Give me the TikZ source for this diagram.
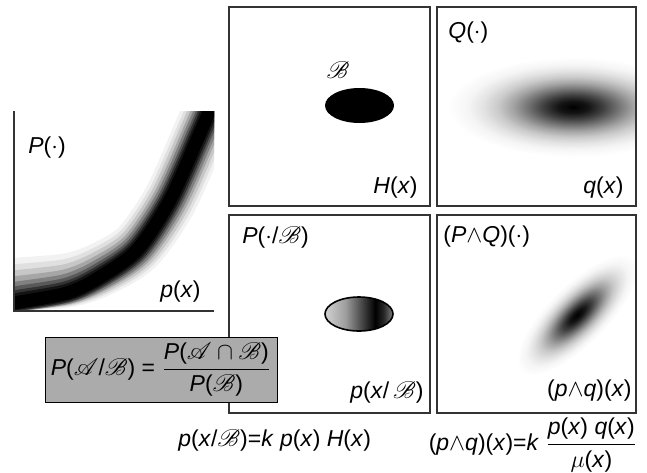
\documentclass[tikz,border=0pt]{standalone}
\usepackage{amsmath}
\usepackage{mathrsfs}
\usepackage{fontspec}
\setmainfont{Liberation Sans}
\usetikzlibrary{calc}
\newcommand\iv[1]{\textit{#1}}
\pgfdeclareradialshading{blob}{\pgfpoint{0bp}{0bp}}{color(0bp)=(black); color(3bp)=(black!92); color(6bp)=(black!75); color(9bp)=(black!55); color(12bp)=(black!36); color(15bp)=(black!21); color(18bp)=(black!11); color(21bp)=(black!4); color(25bp)=(white); color(50bp)=(white)}
\pgfdeclarehorizontalshading{slice}{100bp}{color(0bp)=(black!18); color(25bp)=(black!18); color(40bp)=(black!38); color(52bp)=(black!72); color(62bp)=(black); color(68bp)=(black!85); color(75bp)=(black!50); color(100bp)=(black!50)}
\tikzset{
    panel/.style={draw=black!80, line width=0.65pt},
    lbl/.style={font=\fontsize{11.5}{13}\selectfont, inner sep=0pt},
    formbox/.style={draw, fill=black!33, line width=0.5pt, inner sep=0pt,
        minimum width=116pt, minimum height=32.5pt}
}
\begin{document}
\begin{tikzpicture}[x=0.5pt, y=-0.5pt]
    \useasboundingbox (0,0) rectangle (647,472);
    % p(x): band along a curve, wider spread at the lower left
    \begin{scope}
        \clip (14,111) rectangle (214,311);
        \foreach \w/\g/\s in {54/5/18, 47/12/15, 41/22/12, 35/35/9, 30/50/6, 25/65/4, 21/80/2, 17/92/1, 13/100/0}
            \draw[black!\g, line width=\w*0.5pt] plot[smooth]
                coordinates {(0,{306-\s}) (14,{303-\s}) (67,{293-0.7*\s}) (100,{277-0.4*\s})
                    (137,{250-0.15*\s}) (170,200) (200,133) (214,100)};
    \end{scope}
    \draw[panel] (14,111) |- (214,311);
    \node[lbl, anchor=west] (Pdot) at (28,148) {\iv{P}(\(\cdot\))};
    \node[lbl, anchor=east] (px) at (201,292) {\iv{p}(\iv{x})};
    % H(x)
    \draw[panel] (229,7) rectangle (430,206);
    \coordinate (eB) at (359.5,105.5);
    \fill (eB) ellipse [x radius=34.5, y radius=17.5];
    \node[lbl] (B) at (338,70) {\(\mathscr{B}\)};
    \node[lbl, anchor=east] (Hx) at (418,188) {\iv{H}(\iv{x})};
    % q(x)
    \coordinate (cq) at (573,107);
    \begin{scope}
        \clip (437,7) rectangle (636,206);
        \shade[shading=blob] (cq) ellipse [x radius=125, y radius=50];
    \end{scope}
    \draw[panel] (437,7) rectangle (636,206);
    \node[lbl, anchor=west] (Qdot) at (448,33) {\iv{Q}(\(\cdot\))};
    \node[lbl, anchor=east] (qx) at (624,188) {\iv{q}(\iv{x})};
    % p(x/B)
    \draw[panel] (229,215) rectangle (430,413);
    \coordinate (eC) at (359,314);
    \shade[shading=slice] (eC) ellipse [x radius=34, y radius=17];
    \draw[line width=0.8pt] (eC) ellipse [x radius=34, y radius=17];
    \node[lbl, anchor=west] (PB) at (242,237) {\iv{P}(\(\cdot\)/\(\mathscr{B}\))};
    \node[lbl, anchor=east] (pxB) at (424,392) {\iv{p}(\iv{x}/\,\(\mathscr{B}\))};
    % (p^q)(x)
    \coordinate (cpq) at (577,315);
    \begin{scope}
        \clip (437,215) rectangle (636,413);
        \begin{scope}[transform canvas={rotate around={45:(cpq)}}]
            \shade[shading=blob] (cpq) ellipse [x radius=80, y radius=30];
        \end{scope}
    \end{scope}
    \draw[panel] (437,215) rectangle (636,413);
    \node[lbl, anchor=west] (PQ) at (443,237) {(\iv{P}\(\wedge\)\iv{Q})(\(\cdot\))};
    \node[lbl, anchor=east] (pq) at (632,391) {(\iv{p}\(\wedge\)\iv{q})(\iv{x})};
    % formulas
    \node[formbox, lbl] (bayes) at (161,369.5)
        {\iv{P}(\(\mathscr{A}\)/\(\mathscr{B}\)) = \(\dfrac{\mbox{\iv{P}(\(\mathscr{A}\cap\mathscr{B}\))}}{\mbox{\iv{P}(\(\mathscr{B}\))}}\)};
    \node[lbl, anchor=west] (condeq) at (178,440)
        {\iv{p}(\iv{x}/\(\mathscr{B}\))=\iv{k} \iv{p}(\iv{x}) \iv{H}(\iv{x})};
    \node[lbl] (prodeq) at (533,445)
        {(\iv{p}\(\wedge\)\iv{q})(\iv{x})=\iv{k} \(\dfrac{\mbox{\iv{p}(\iv{x}) \iv{q}(\iv{x})}}{\mbox{\(\mu\)(\iv{x})}}\)};
\end{tikzpicture}
\end{document}
